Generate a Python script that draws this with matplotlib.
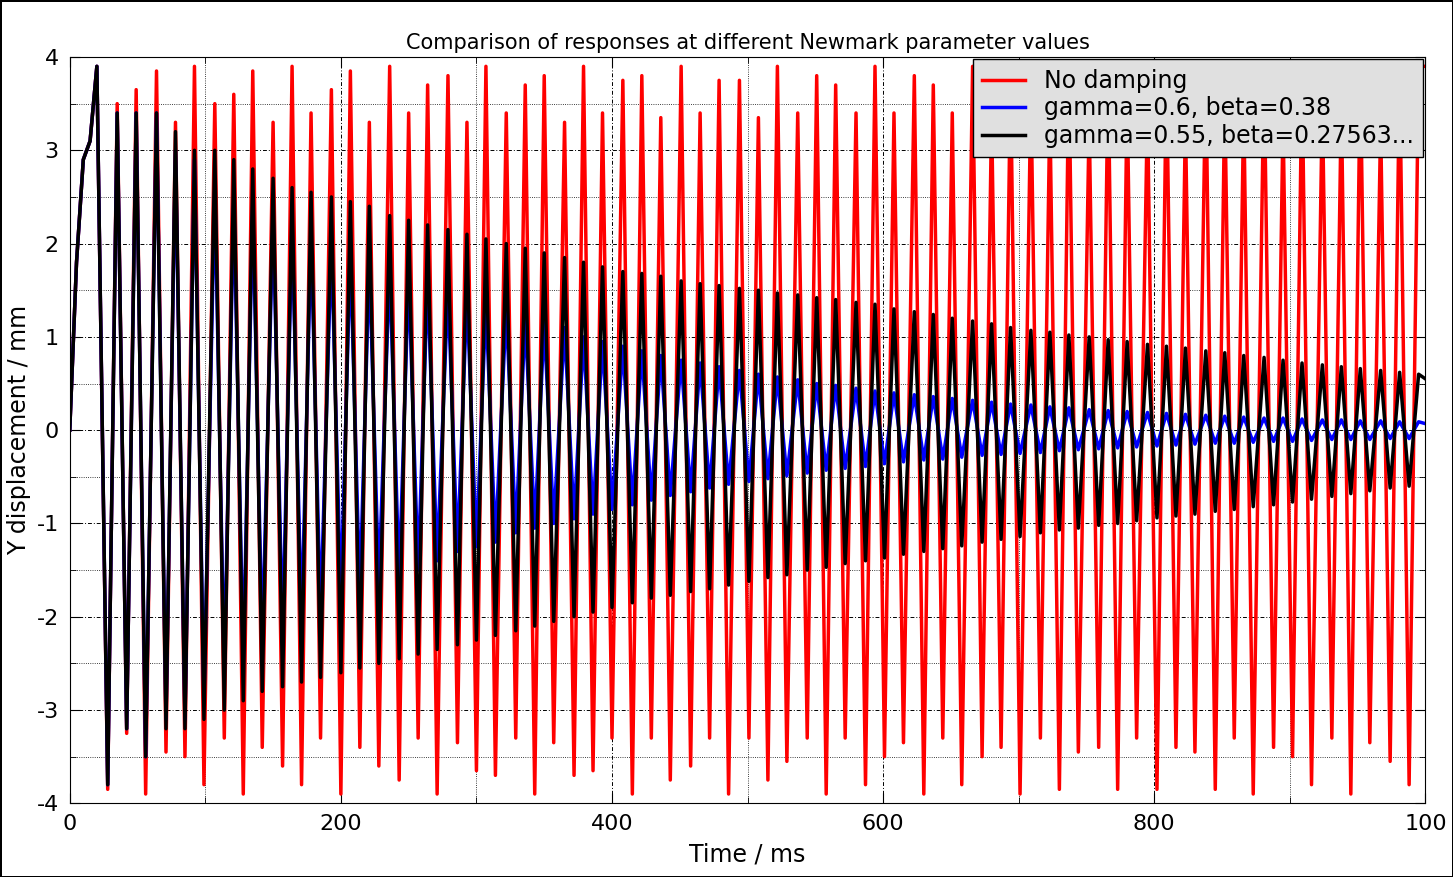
import numpy as np
import matplotlib
matplotlib.use('Agg')
import matplotlib.pyplot as plt
from matplotlib.ticker import MultipleLocator, FormatStrFormatter

# lead-in (shared by all three runs)
t_start = [0, 5, 10, 15]
v_start = [0, 1.8, 2.9, 3.1]

# extrema times (ms)
t_peak = [20, 35, 49, 64, 78, 92, 107, 121, 135, 150,
          164, 178, 193, 207, 221, 236, 250, 264, 279, 293,
          307, 322, 336, 350, 365, 379, 393, 408, 422, 436,
          451, 465, 479, 494, 508, 522, 537, 551, 565, 580,
          594, 608, 623, 637, 651, 666, 680, 694, 709, 723,
          737, 752, 766, 780, 795, 809, 823, 838, 852, 866,
          881, 895, 909, 924, 938, 952, 967, 981, 995]
t_trough = [28, 42, 56, 71, 85, 99, 114, 128, 142, 157,
            171, 185, 200, 214, 228, 243, 257, 271, 286, 300,
            314, 329, 343, 357, 372, 386, 400, 415, 429, 443,
            458, 472, 486, 501, 515, 529, 544, 558, 572, 587,
            601, 615, 630, 644, 658, 673, 687, 701, 716, 730,
            744, 759, 773, 787, 802, 816, 830, 845, 859, 873,
            888, 902, 916, 931, 945, 959, 974, 988]
t_end = 1000

red_peak = [3.9, 3.5, 3.65, 3.85, 3.3, 3.9, 3.5, 3.6, 3.85, 3.3,
            3.9, 3.4, 3.65, 3.85, 3.3, 3.9, 3.4, 3.7, 3.8, 3.3,
            3.9, 3.4, 3.7, 3.8, 3.3, 3.9, 3.4, 3.75, 3.8, 3.35,
            3.9, 3.4, 3.75, 3.75, 3.35, 3.9, 3.4, 3.8, 3.7, 3.4,
            3.9, 3.4, 3.8, 3.7, 3.4, 3.9, 3.4, 3.8, 3.65, 3.45,
            3.9, 3.35, 3.85, 3.6, 3.5, 3.9, 3.35, 3.85, 3.6, 3.5,
            3.9, 3.35, 3.85, 3.55, 3.55, 3.9, 3.3, 3.9, 3.9]
red_trough = [-3.85, -3.25, -3.9, -3.45, -3.5, -3.8, -3.3, -3.9, -3.4, -3.6,
              -3.8, -3.3, -3.9, -3.4, -3.6, -3.75, -3.3, -3.9, -3.35, -3.65,
              -3.7, -3.3, -3.9, -3.35, -3.7, -3.65, -3.3, -3.9, -3.3, -3.75,
              -3.6, -3.3, -3.9, -3.3, -3.75, -3.55, -3.3, -3.9, -3.3, -3.8,
              -3.5, -3.35, -3.9, -3.3, -3.8, -3.5, -3.4, -3.9, -3.3, -3.85,
              -3.45, -3.4, -3.85, -3.3, -3.85, -3.4, -3.45, -3.85, -3.3, -3.9,
              -3.4, -3.5, -3.8, -3.3, -3.9, -3.35, -3.55, -3.8]
red_end = 3.9

blue_peak = [3.9, 3.4, 3.4, 3.4, 3.0, 2.9, 2.6, 2.5, 2.4, 2.3,
             2.2, 2.1, 2.0, 1.9, 1.8, 1.75, 1.65, 1.6, 1.5, 1.45,
             1.35, 1.3, 1.2, 1.15, 1.1, 1.0, 0.95, 0.9, 0.85, 0.8,
             0.75, 0.72, 0.68, 0.64, 0.6, 0.57, 0.54, 0.5, 0.48, 0.45,
             0.42, 0.4, 0.38, 0.36, 0.34, 0.32, 0.3, 0.28, 0.27, 0.25,
             0.24, 0.22, 0.21, 0.2, 0.19, 0.18, 0.17, 0.16, 0.15, 0.14,
             0.13, 0.13, 0.12, 0.11, 0.11, 0.1, 0.1, 0.09, 0.09]
blue_trough = [-3.8, -3.2, -3.5, -3.1, -3.1, -2.9, -2.6, -2.5, -2.3, -2.2,
               -2.1, -2.0, -1.8, -1.75, -1.65, -1.6, -1.5, -1.4, -1.3, -1.25,
               -1.2, -1.1, -1.05, -1.0, -0.95, -0.9, -0.85, -0.8, -0.75, -0.7,
               -0.66, -0.62, -0.58, -0.55, -0.52, -0.49, -0.46, -0.43, -0.41, -0.39,
               -0.36, -0.34, -0.32, -0.31, -0.29, -0.27, -0.26, -0.25, -0.24, -0.22,
               -0.21, -0.2, -0.19, -0.18, -0.17, -0.16, -0.15, -0.14, -0.14, -0.13,
               -0.12, -0.12, -0.11, -0.1, -0.1, -0.1, -0.09, -0.09]
blue_end = 0.07

black_peak = [3.9, 3.4, 3.4, 3.4, 3.2, 3.0, 3.0, 2.9, 2.8, 2.7,
              2.6, 2.55, 2.5, 2.45, 2.4, 2.3, 2.25, 2.2, 2.15, 2.1,
              2.05, 2.0, 1.95, 1.9, 1.85, 1.8, 1.75, 1.7, 1.68, 1.65,
              1.6, 1.57, 1.55, 1.52, 1.5, 1.47, 1.45, 1.42, 1.4, 1.37,
              1.35, 1.3, 1.27, 1.24, 1.2, 1.17, 1.14, 1.1, 1.07, 1.05,
              1.02, 1.0, 0.97, 0.95, 0.92, 0.9, 0.88, 0.85, 0.83, 0.8,
              0.78, 0.75, 0.72, 0.7, 0.68, 0.66, 0.64, 0.62, 0.6]
black_trough = [-3.8, -3.2, -3.5, -3.2, -3.2, -3.1, -3.0, -2.9, -2.8, -2.75,
                -2.7, -2.65, -2.6, -2.55, -2.5, -2.45, -2.4, -2.35, -2.3, -2.25,
                -2.2, -2.15, -2.1, -2.05, -2.0, -1.95, -1.9, -1.85, -1.8, -1.77,
                -1.73, -1.7, -1.66, -1.62, -1.58, -1.55, -1.5, -1.47, -1.43, -1.4,
                -1.37, -1.33, -1.3, -1.27, -1.24, -1.2, -1.17, -1.14, -1.1, -1.07,
                -1.05, -1.02, -1.0, -0.97, -0.94, -0.92, -0.9, -0.87, -0.85, -0.82,
                -0.8, -0.77, -0.74, -0.71, -0.68, -0.65, -0.62, -0.6]
black_end = 0.55


def build(peaks, troughs, end):
    t = list(t_start) + list(t_peak) + list(t_trough) + [t_end]
    v = list(v_start) + list(peaks) + list(troughs) + [end]
    order = np.argsort(t)
    return np.array(t)[order], np.array(v)[order]


fig = plt.figure(figsize=(14.53, 8.77), dpi=100)
fig.patch.set_edgecolor('black')
fig.patch.set_linewidth(2)
ax = fig.add_axes([0.048, 0.084, 0.933, 0.851])

series = [(red_peak, red_trough, red_end, 'red', 'No damping'),
          (blue_peak, blue_trough, blue_end, 'blue', 'gamma=0.6, beta=0.38'),
          (black_peak, black_trough, black_end, 'black', 'gamma=0.55, beta=0.27563...')]
for pk, tr, en, col, lab in series:
    t, v = build(pk, tr, en)
    ax.plot(t, v, color=col, linewidth=2.5, label=lab)

ax.set_xlim(0, 1000)
ax.set_ylim(-4, 4)
ax.xaxis.set_minor_locator(MultipleLocator(100))
ax.yaxis.set_major_locator(MultipleLocator(1))
ax.yaxis.set_minor_locator(MultipleLocator(0.5))
ax.yaxis.set_major_formatter(FormatStrFormatter('%d'))
ax.set_xticks([0, 200, 400, 600, 800, 1000])
ax.set_xticklabels(['0', '200', '400', '600', '800', '100'])
ax.grid(which='major', color='black', linestyle=(0, (4, 2, 1, 2)), linewidth=0.7)
ax.grid(which='minor', color='black', linestyle=':', linewidth=0.6)
ax.tick_params(which='both', direction='in', top=True, right=True, labelsize=16)
ax.tick_params(which='major', length=7, pad=8)
ax.tick_params(which='minor', length=4)
ax.set_xlabel('Time / ms', fontsize=17, labelpad=6)
ax.set_ylabel('Y displacement / mm', fontsize=17)
ax.set_title('Comparison of responses at different Newmark parameter values', fontsize=15)

leg = ax.legend(loc='upper right', fontsize=17, fancybox=False, framealpha=1,
                borderaxespad=0.1, handlelength=1.8, labelspacing=0.15)
leg.get_frame().set_facecolor('#e0e0e0')
leg.get_frame().set_edgecolor('black')

fig.savefig('out.png', dpi=100, edgecolor=fig.get_edgecolor())
